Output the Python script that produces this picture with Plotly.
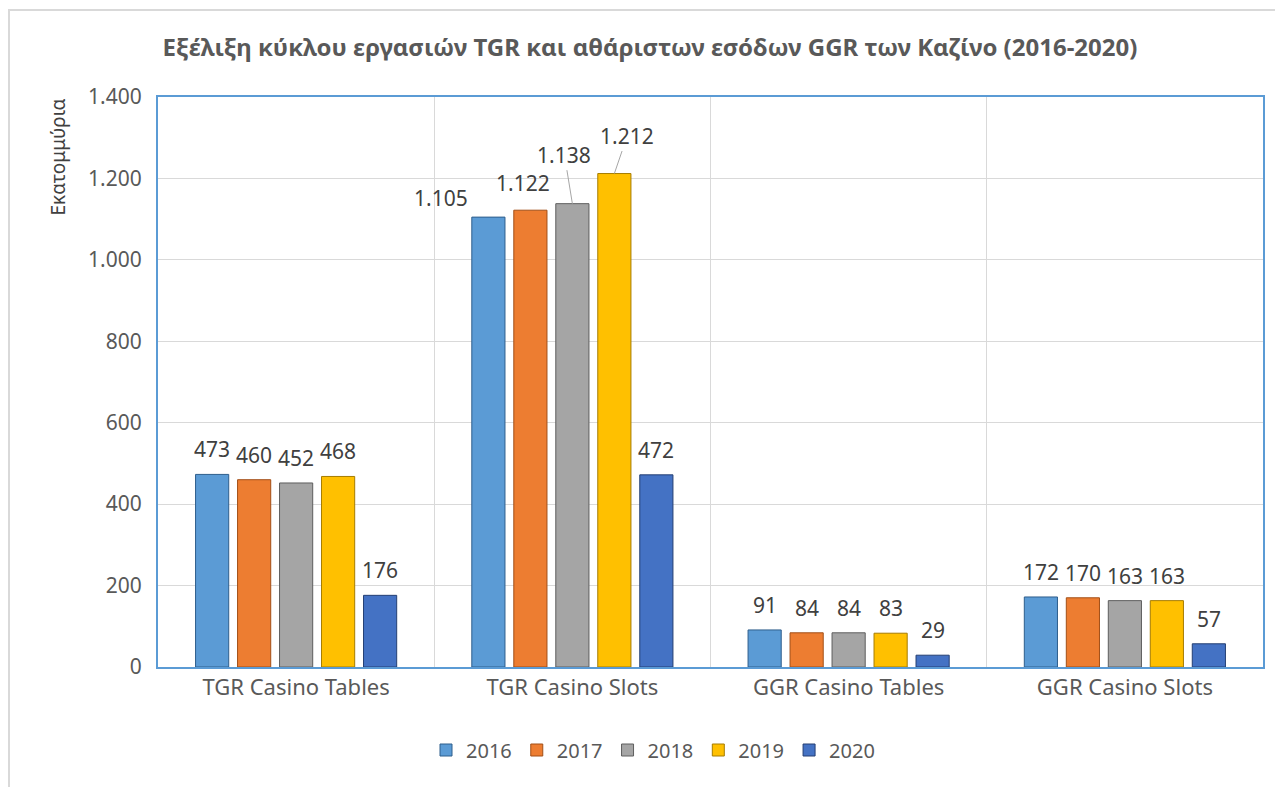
import plotly.graph_objects as go

categories = ["TGR Casino Tables", "TGR Casino Slots", "GGR Casino Tables", "GGR Casino Slots"]
years = ["2016", "2017", "2018", "2019", "2020"]
values = {
    "2016": [473, 1105, 91, 172],
    "2017": [460, 1122, 84, 170],
    "2018": [452, 1138, 84, 163],
    "2019": [468, 1212, 83, 163],
    "2020": [176, 472, 29, 57],
}
colors = ["#5B9BD5", "#ED7D31", "#A5A5A5", "#FFC000", "#4472C4"]
edge_colors = ["#2E5E8C", "#A24F17", "#5E5E5E", "#A67C00", "#243F73"]

FONT = "Noto Sans"
TXT = "#404040"
W, H = 1275, 779
L, R, T, B = 150, 20, 89, 120
PW, PH = W - L - R, H - T - B

def fmt(v):
    return f"{v:,}".replace(",", ".")

bargap = 0.24
fig = go.Figure()
for i, y in enumerate(years):
    fig.add_trace(go.Bar(
        name=y, x=categories, y=values[y],
        marker=dict(color=colors[i], line=dict(color=edge_colors[i], width=1)),
    ))

# data labels
slot = (1 - bargap) / len(years)
annotations = []
for i, y in enumerate(years):
    off = (i - (len(years) - 1) / 2) * slot
    for j, c in enumerate(categories):
        v = values[y][j]
        a = dict(x=j + off, y=v, xref="x", yref="y", text=fmt(v),
                 font=dict(family=FONT, size=21, color=TXT),
                 showarrow=False, yshift=25, xanchor="center", yanchor="middle")
        if c == "TGR Casino Slots":
            if y == "2016":
                a.update(xshift=-47, yshift=19)
            elif y == "2017":
                a.update(xshift=-7, yshift=27)
            elif y == "2018":
                a.update(showarrow=True, ax=-8, ay=-49, arrowhead=0, arrowwidth=1,
                         arrowcolor="#A6A6A6", yshift=0, standoff=0)
            elif y == "2019":
                a.update(showarrow=True, ax=13, ay=-38, arrowhead=0, arrowwidth=1,
                         arrowcolor="#A6A6A6", yshift=0, standoff=0)
        annotations.append(a)

annotations.append(dict(
    text="Εκατομμύρια", textangle=-90, xref="paper", yref="paper",
    x=(49 - L) / PW, y=1.0, xanchor="center", yanchor="top", showarrow=False,
    font=dict(family=FONT, size=19, color=TXT)))

fig.update_layout(
    width=W, height=H,
    margin=dict(l=L, r=R, t=T, b=B),
    paper_bgcolor="white", plot_bgcolor="white",
    barmode="group", bargap=bargap, bargroupgap=0.21,
    separators=",.",
    font=dict(family=FONT, color="#595959"),
    title=dict(text="<b>Εξέλιξη κύκλου εργασιών TGR και αθάριστων εσόδων GGR των Καζίνο (2016-2020)</b>",
               x=642 / W, xanchor="center", y=1 - 40 / H, yanchor="middle",
               font=dict(family=FONT, size=24, color="#595959")),
    xaxis=dict(tickson="boundaries", showgrid=True, gridcolor="#D9D9D9", gridwidth=1,
               ticks="", tickfont=dict(family=FONT, size=22, color="#595959"),
               showline=True, linecolor="#5B9BD5", linewidth=2, mirror=True),
    yaxis=dict(range=[0, 1400], dtick=200, tickformat=",d", showgrid=True,
               gridcolor="#D9D9D9", gridwidth=1, zeroline=False,
               tickfont=dict(family=FONT, size=21, color="#595959"),
               showline=True, linecolor="#5B9BD5", linewidth=2, mirror=True,
               ticks="", ticklabelstandoff=10),
    legend=dict(orientation="h", x=(645 - L) / PW, xanchor="center", y=(H - B - 742) / PH,
                yanchor="middle",
                font=dict(family=FONT, size=20, color="#595959"),
                itemwidth=30, traceorder="normal"),
    annotations=annotations,
    shapes=[dict(type="rect", xref="paper", yref="paper",
                 x0=(1 - L) / PW, x1=1.3, y0=-0.5, y1=(H - B - 2) / PH,
                 line=dict(color="#D9D9D9", width=2), fillcolor="rgba(0,0,0,0)", layer="below")],
)

fig.write_html("out.html")
